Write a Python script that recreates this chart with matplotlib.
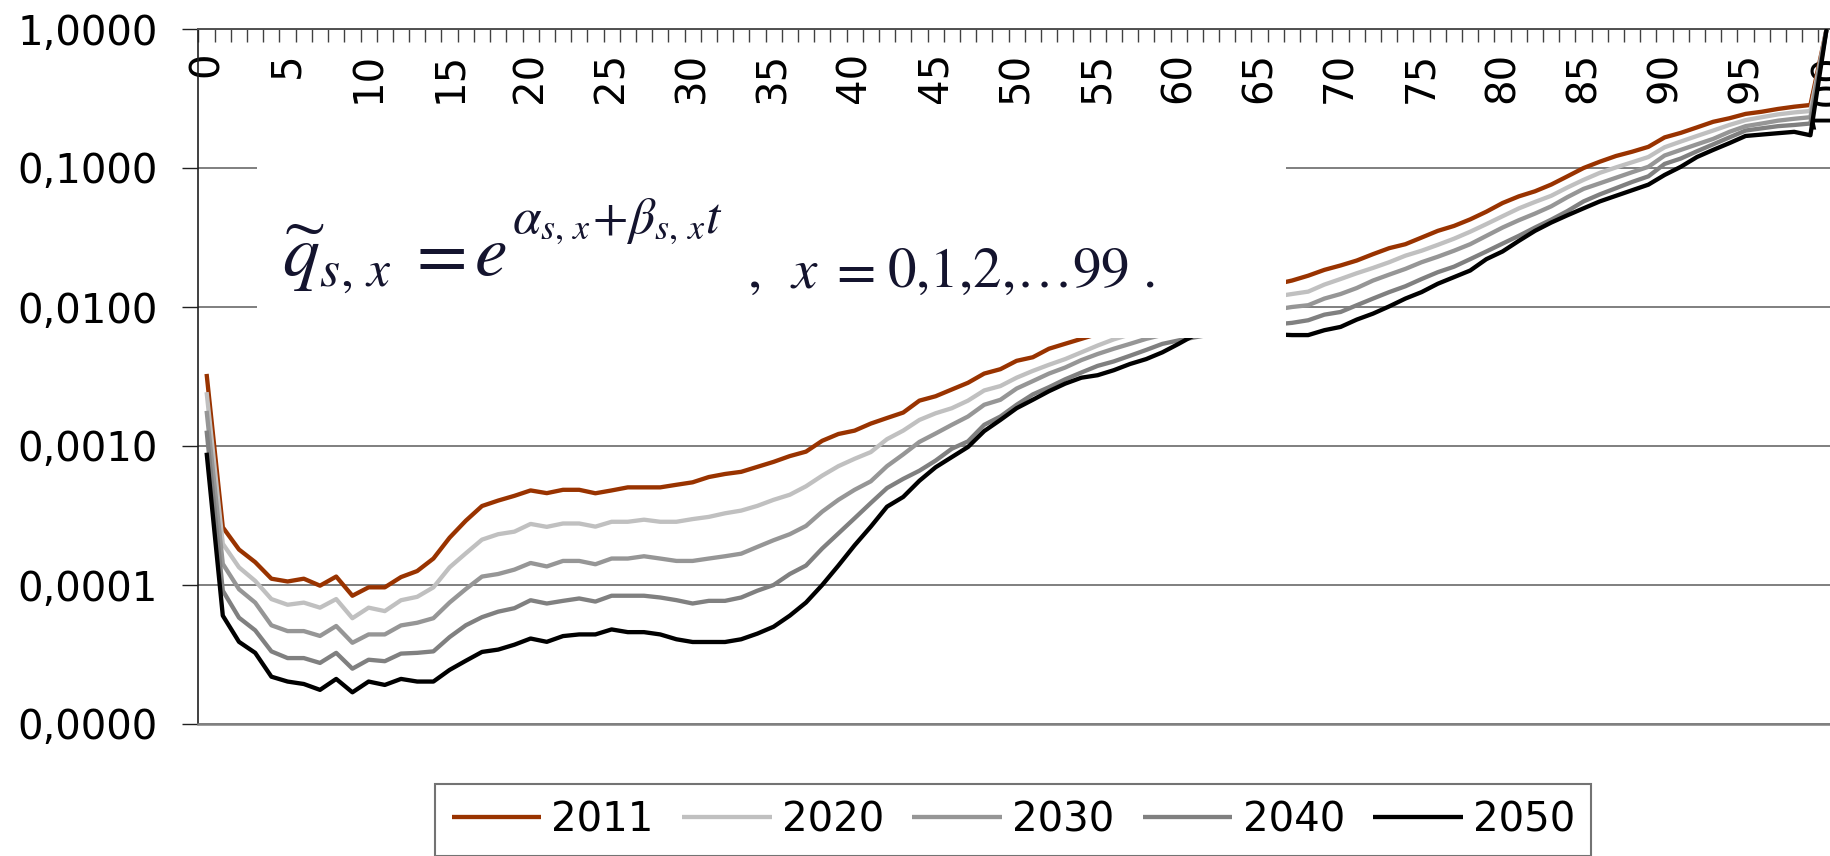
import numpy as np
import matplotlib
matplotlib.use('Agg')
import matplotlib.pyplot as plt
from matplotlib.ticker import FixedLocator, FuncFormatter, NullLocator
from matplotlib.patches import Rectangle

# ---------------- data ----------------
ages = list(range(101))
years = ['2011', '2020', '2030', '2040', '2050']

q2011 = [0.0033, 0.00026, 0.00018, 0.000146, 0.000111, 0.000106, 0.000111, 0.0000989, 0.000115, 0.0000837,
         0.0000962, 0.0000962, 0.000114, 0.000126, 0.000155, 0.000219, 0.000290, 0.000370, 0.000405, 0.000438,
         0.000479, 0.000458, 0.000484, 0.000484, 0.000457, 0.000479, 0.000504, 0.000504, 0.000504, 0.000526,
         0.000548, 0.000598, 0.000629, 0.000652, 0.000708, 0.000769, 0.000846, 0.000911, 0.00109, 0.00122,
         0.00129, 0.00145, 0.00159, 0.00174, 0.00212, 0.00228, 0.00255, 0.00285, 0.00332, 0.00357,
         0.00410, 0.00435, 0.00501, 0.00544, 0.00590, 0.00640, 0.00695, 0.00750, 0.00810, 0.00880,
         0.00950, 0.0102, 0.0110, 0.0118, 0.0127, 0.0136, 0.0146, 0.0155, 0.0168, 0.0185,
         0.0199, 0.0216, 0.0240, 0.0265, 0.0283, 0.0316, 0.0353, 0.0383, 0.0427, 0.0485,
         0.0560, 0.0625, 0.0680, 0.0760, 0.0871, 0.100, 0.111, 0.122, 0.131, 0.142,
         0.166, 0.179, 0.196, 0.215, 0.228, 0.245, 0.254, 0.266, 0.276, 0.284,
         1.0]

q2020 = [0.00244, 0.000198, 0.000134, 0.000107, 0.0000792, 0.0000721, 0.0000747, 0.0000687, 0.0000792, 0.0000577,
         0.0000687, 0.0000649, 0.0000777, 0.0000822, 0.0000962, 0.000134, 0.000169, 0.000212, 0.000232, 0.000242,
         0.000275, 0.000262, 0.000277, 0.000277, 0.000263, 0.000285, 0.000285, 0.000295, 0.000285, 0.000285,
         0.000298, 0.000309, 0.000328, 0.000343, 0.000371, 0.000410, 0.000446, 0.000513, 0.000612, 0.000716,
         0.000809, 0.000904, 0.00112, 0.00129, 0.00154, 0.00172, 0.00187, 0.00212, 0.00251, 0.00270,
         0.00310, 0.00347, 0.00384, 0.00422, 0.00472, 0.00528, 0.00585, 0.00635, 0.00690, 0.00745,
         0.00800, 0.00860, 0.00925, 0.00990, 0.0106, 0.0113, 0.0119, 0.0124, 0.0129, 0.0145,
         0.0159, 0.0175, 0.0191, 0.0210, 0.0234, 0.0254, 0.0280, 0.0310, 0.0348, 0.0395,
         0.0450, 0.0512, 0.0570, 0.0631, 0.0724, 0.0822, 0.0923, 0.101, 0.110, 0.120,
         0.141, 0.155, 0.170, 0.186, 0.204, 0.221, 0.232, 0.243, 0.251, 0.257,
         1.0]

q2030 = [0.00179, 0.000142, 0.0000932, 0.0000747, 0.0000513, 0.0000466, 0.0000466, 0.0000430, 0.0000507, 0.0000384,
         0.0000441, 0.0000441, 0.0000512, 0.0000535, 0.0000577, 0.0000748, 0.0000935, 0.000115, 0.000120, 0.000129,
         0.000144, 0.000136, 0.000149, 0.000149, 0.000141, 0.000155, 0.000155, 0.000161, 0.000155, 0.000149,
         0.000149, 0.000155, 0.000161, 0.000168, 0.000188, 0.000210, 0.000232, 0.000266, 0.000337, 0.000410,
         0.000484, 0.000557, 0.000716, 0.000870, 0.00107, 0.00123, 0.00142, 0.00163, 0.00198, 0.00215,
         0.00259, 0.00293, 0.00332, 0.00367, 0.00415, 0.00459, 0.00501, 0.00543, 0.00590, 0.00630,
         0.00670, 0.00715, 0.00760, 0.00810, 0.00860, 0.00910, 0.00960, 0.0100, 0.0103, 0.0115,
         0.0124, 0.0137, 0.0155, 0.0171, 0.0188, 0.0210, 0.0230, 0.0254, 0.0283, 0.0325,
         0.0373, 0.0421, 0.0470, 0.0530, 0.0617, 0.0708, 0.0776, 0.0851, 0.0933, 0.102,
         0.123, 0.135, 0.148, 0.162, 0.182, 0.200, 0.209, 0.219, 0.226, 0.232,
         1.0]

q2040 = [0.00129, 0.0000910, 0.0000582, 0.0000472, 0.0000333, 0.0000298, 0.0000298, 0.0000275, 0.0000325, 0.0000250,
         0.0000290, 0.0000283, 0.0000321, 0.0000325, 0.0000333, 0.0000422, 0.0000513, 0.0000587, 0.0000643, 0.0000681,
         0.0000777, 0.0000736, 0.0000769, 0.0000800, 0.0000760, 0.0000837, 0.0000837, 0.0000837, 0.0000813, 0.0000778,
         0.0000736, 0.0000769, 0.0000769, 0.0000813, 0.0000910, 0.000100, 0.000120, 0.000138, 0.000183, 0.000235,
         0.000302, 0.000389, 0.000498, 0.000580, 0.000664, 0.000785, 0.000956, 0.00108, 0.00142, 0.00163,
         0.00198, 0.00235, 0.00265, 0.00302, 0.00338, 0.00377, 0.00406, 0.00446, 0.00491, 0.00543,
         0.00575, 0.00605, 0.00635, 0.00665, 0.00695, 0.00725, 0.00750, 0.00769, 0.00803, 0.00881,
         0.00921, 0.0103, 0.0115, 0.0128, 0.0141, 0.0159, 0.0178, 0.0195, 0.0221, 0.0251,
         0.0286, 0.0325, 0.0373, 0.0425, 0.0490, 0.0575, 0.0646, 0.0716, 0.0794, 0.0871,
         0.107, 0.117, 0.132, 0.148, 0.166, 0.186, 0.193, 0.200, 0.204, 0.209,
         1.0]

q2050 = [0.000895, 0.0000602, 0.0000390, 0.0000325, 0.0000219, 0.0000202, 0.0000194, 0.0000176, 0.0000211, 0.0000169,
         0.0000202, 0.0000191, 0.0000211, 0.0000202, 0.0000202, 0.0000245, 0.0000285, 0.0000330, 0.0000343, 0.0000372,
         0.0000412, 0.0000390, 0.0000429, 0.0000441, 0.0000441, 0.0000479, 0.0000458, 0.0000458, 0.0000441, 0.0000407,
         0.0000389, 0.0000389, 0.0000389, 0.0000407, 0.0000447, 0.0000501, 0.0000602, 0.0000748, 0.000100, 0.000138,
         0.000193, 0.000263, 0.000366, 0.000430, 0.000562, 0.000703, 0.000832, 0.000984, 0.00128, 0.00154,
         0.00187, 0.00215, 0.00248, 0.00281, 0.00310, 0.00323, 0.00351, 0.00389, 0.00422, 0.00472,
         0.00543, 0.00630, 0.00635, 0.00638, 0.00640, 0.00640, 0.00635, 0.00628, 0.00628, 0.00681,
         0.00719, 0.00812, 0.00896, 0.0101, 0.0115, 0.0128, 0.0147, 0.0164, 0.0183, 0.0221,
         0.0251, 0.0299, 0.0353, 0.0405, 0.0457, 0.0513, 0.0575, 0.0631, 0.0692, 0.0759,
         0.0891, 0.102, 0.120, 0.135, 0.151, 0.170, 0.174, 0.178, 0.182, 0.172,
         1.0]

series = [q2011, q2020, q2030, q2040, q2050]
colors = ['#993300', '#C0C0C0', '#969696', '#808080', '#000000']

ytick_vals = [1e-5, 1e-4, 1e-3, 1e-2, 1e-1, 1.0]
xtick_vals = list(range(0, 101, 5))

# ---------------- figure ----------------
W, H = 1831, 856
fig = plt.figure(figsize=(W / 100, H / 100), dpi=100)

left, right, top, bottom = 198.5, 1834.7, 29.0, 724.0
ax = fig.add_axes([left / W, (H - bottom) / H, (right - left) / W, (bottom - top) / H])

for vals, lab, c in zip(series, years, colors):
    ax.plot(ages, vals, color=c, lw=3.1, label=lab, zorder=3,
            solid_joinstyle='round', solid_capstyle='butt')

ax.set_yscale('log')
ax.set_ylim(1e-5, 1.0)
ax.set_xlim(-0.5, 100.5)

ax.yaxis.set_major_locator(FixedLocator(ytick_vals))
ax.yaxis.set_minor_locator(NullLocator())
ax.yaxis.set_major_formatter(FuncFormatter(lambda v, p: f'{v:.4f}'.replace('.', ',')))
ax.grid(axis='y', which='major', color='#6a6a6a', lw=1.2)
ax.set_axisbelow(True)

ax.xaxis.tick_top()
ax.set_xticks(xtick_vals)
ax.set_xticks(np.arange(-0.5, 101, 1), minor=True)
ax.tick_params(axis='x', which='major', length=0, pad=-16.5, labelsize=29,
               labelrotation=90, top=True, bottom=False)
ax.tick_params(axis='x', which='minor', direction='in', length=9.4, width=1.0,
               color='#404040', top=True, bottom=False)
for lbl in ax.get_xticklabels():
    lbl.set_va('top')

ax.tick_params(axis='y', which='major', direction='out', length=11.5, width=1.0,
               color='#202020', pad=17.6, labelsize=29)

ax.spines['right'].set_visible(False)
ax.spines['left'].set_color('#202020')
ax.spines['left'].set_linewidth(1.2)
ax.spines['top'].set_color('#505050')
ax.spines['top'].set_linewidth(1.4)
ax.spines['bottom'].set_color('#808080')
ax.spines['bottom'].set_linewidth(1.8)

# legend
leg = fig.legend(loc='center', bbox_to_anchor=((432.7 + 1594) / 2 / W, 1 - 820 / H),
                 bbox_transform=fig.transFigure, ncol=5,
                 prop={'family': 'DejaVu Sans', 'size': 29},
                 frameon=True, fancybox=False, shadow=False,
                 handlelength=2.23, handletextpad=0.25, columnspacing=0.7,
                 borderpad=0.4)
leg.get_frame().set_edgecolor('#505050')
leg.get_frame().set_linewidth(1.5)
for h in leg.legend_handles:
    h.set_linewidth(3.1)

# white box with the formula (covers part of the plot, as in the source image)
box_l, box_r, box_t, box_b = 257, 1286, 140, 337.7
rect = Rectangle((box_l / W, 1 - box_b / H), (box_r - box_l) / W, (box_b - box_t) / H,
                 transform=fig.transFigure, facecolor='white', edgecolor='none', zorder=10)
fig.add_artist(rect)

fcol = '#14142e'
def ftext(xpx, ypx, s, size):
    fig.text(xpx / W, 1 - ypx / H, s, fontsize=size, math_fontfamily='stix',
             color=fcol, ha='left', va='baseline', zorder=11)

ftext(282, 276, r'$\widetilde{q}_{s,\,x}$', 53)
ftext(406, 276, r'$=$', 53)
ftext(474, 276, r'$e$', 53)
ftext(512, 233, r'$\alpha_{s,\,x}\!+\!\beta_{s,\,x}t$', 37)
ftext(747, 287, r'$,$', 41)
ftext(790, 287, r'$x$', 41)
ftext(828, 287, r'$=$', 41)
ftext(887, 287, r'$0{,}1{,}2{,}\ldots99\ .$', 41)

fig.savefig('out.png', dpi=100, facecolor='white')
